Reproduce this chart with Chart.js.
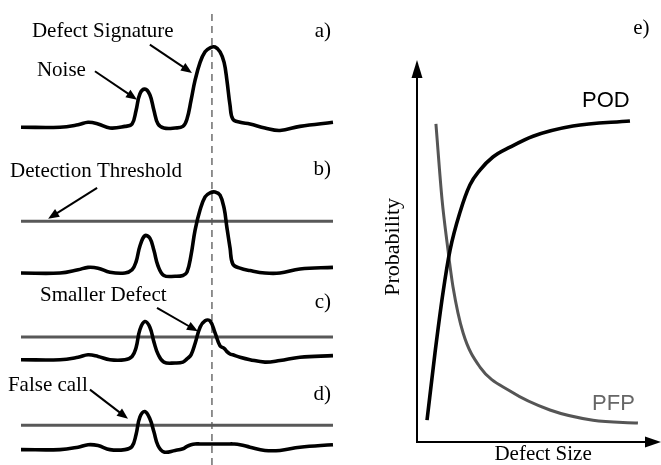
<!DOCTYPE html>
<html>
<head>
<meta charset="utf-8">
<script src="https://cdn.jsdelivr.net/npm/chart.js@4.4.1/dist/chart.umd.min.js"></script>
<style>
  html, body { margin: 0; padding: 0; background: #fff; }
  #wrap { position: relative; width: 661px; height: 465px; }
  #sigPlot { position: absolute; left: 0; top: 0; }
  #probPlot { position: absolute; left: 345px; top: 0; }
</style>
</head>
<body>
<div id="wrap">
  <canvas id="sigPlot" width="345" height="465"></canvas>
  <canvas id="probPlot" width="316" height="465"></canvas>
</div>
<script>
// scan positions shared by the four signal traces (0..100 along the scan)
const scanPos = [0, 12.5, 18.3, 21.5, 24.7, 28.5, 33.3, 35.6, 36.9, 38.1, 39.7, 41.3, 42.6, 43.9, 45.8,
  49.4, 51.9, 53.2, 54.5, 55.8, 57.4, 59.0, 60.6, 62.2, 63.8, 65.1, 66.0, 67.0, 67.9, 70.2, 73.4,
  78.2, 83.0, 89.4, 100];

// signal amplitudes (defect signature peak = 1)
const signalA = [0, 0, 0.03, 0.06, 0.04, -0.01, 0.01, 0.04, 0.21, 0.41, 0.47, 0.4, 0.21, 0.04, -0.01,
  -0.01, 0.01, 0.1, 0.33, 0.58, 0.8, 0.93, 0.98, 0.99, 0.93, 0.8, 0.58, 0.27, 0.1, 0.06, 0.04,
  -0.01, -0.04, 0.01, 0.06];
const signalB = [0, 0, 0.04, 0.07, 0.06, 0.01, 0, 0.04, 0.14, 0.33, 0.46, 0.43, 0.28, 0.09, -0.03,
  -0.04, -0.03, 0.01, 0.22, 0.53, 0.78, 0.94, 0.99, 1.0, 0.96, 0.8, 0.56, 0.31, 0.11, 0.06, 0.03,
  0, 0, 0.05, 0.07];
const signalC = [0, 0, 0.03, 0.06, 0.04, 0, 0, 0.04, 0.15, 0.37, 0.47, 0.4, 0.22, 0.07, -0.03,
  -0.04, -0.03, 0.01, 0.06, 0.2, 0.4, 0.48, 0.48, 0.33, 0.17, 0.14, 0.1, 0.07, 0.06, 0.03, 0,
  -0.03, -0.01, 0.03, 0.05];
const signalD = [0, 0, 0.03, 0.06, 0.05, 0, 0, 0.04, 0.19, 0.4, 0.47, 0.38, 0.22, 0.05, -0.03,
  -0.01, 0.01, 0.04, 0.06, 0.07, 0.07, 0.07, 0.07, 0.07, 0.07, 0.07, 0.07, 0.07, 0.07, 0.06, 0.03,
  -0.01, -0.01, 0.03, 0.06];
const signals = [signalA, signalB, signalC, signalD];
const thresholds = [null, 0.64, 0.28, 0.3];
const panelLabels = ["a)", "b)", "c)", "d)"];
const defectPos = 61.2;

// POD / PFP curves against defect size
const podSize = [0.44, 0.79, 1.14, 1.45, 1.89, 2.32, 2.76, 3.33, 4.08, 5.09, 6.84, 9.34];
const podValue = [0.06, 0.245, 0.41, 0.527, 0.632, 0.706, 0.747, 0.783, 0.81, 0.84, 0.868, 0.882];
const pfpSize = [0.83, 1.1, 1.32, 1.58, 2.02, 2.76, 4.08, 5.83, 7.72, 9.69];
const pfpValue = [0.874, 0.665, 0.547, 0.426, 0.3, 0.206, 0.14, 0.088, 0.06, 0.052];

// layout of the stacked traces (vertical offset of each baseline)
const traceOffsets = [4.17, 2.37, 1.3, 0.19];
const dashTop = 5.62;
const serif = '"Liberation Serif", "Times New Roman", serif';
const sans = '"Liberation Sans", Arial, sans-serif';

// text + arrow annotations, in data units of the chart they sit on
const sigNotes = [
  { text: "Defect Signature", x: 3.5, y: 5.28 },
  { text: "Noise", x: 5.1, y: 4.8 },
  { text: "Detection Threshold", x: -3.5, y: 3.56 },
  { text: "Smaller Defect", x: 6.1, y: 2.02 },
  { text: "False call", x: -4.2, y: 0.91 },
];
const sigArrows = [
  [41.3, 5.19, 54.8, 4.84],
  [23.7, 4.86, 37.2, 4.51],
  [24.4, 3.42, 8.7, 3.04],
  [43.6, 1.94, 56.7, 1.65],
  [22.1, 0.93, 34.3, 0.57],
];
const panelLabelX = 99.4;
const panelLabelY = [5.28, 3.58, 1.94, 0.8];

function drawArrow(ctx, x1, y1, x2, y2, headLen, headHalf) {
  const ang = Math.atan2(y2 - y1, x2 - x1);
  const c = Math.cos(ang), s = Math.sin(ang);
  ctx.beginPath();
  ctx.moveTo(x1, y1);
  ctx.lineTo(x2 - c * headLen * 0.7, y2 - s * headLen * 0.7);
  ctx.stroke();
  ctx.beginPath();
  ctx.moveTo(x2, y2);
  ctx.lineTo(x2 - headLen * c + headHalf * s, y2 - headLen * s - headHalf * c);
  ctx.lineTo(x2 - headLen * c - headHalf * s, y2 - headLen * s + headHalf * c);
  ctx.closePath();
  ctx.fill();
}

// ---- left: signal traces ----
const sigDatasets = [];
signals.forEach((sig, i) => {
  sigDatasets.push({
    data: scanPos.map((p, k) => ({ x: p, y: sig[k] + traceOffsets[i] })),
    borderColor: "#000",
    borderWidth: 3.6,
    tension: 0.4,
  });
});
thresholds.forEach((t, i) => {
  if (t === null) return;
  sigDatasets.push({
    data: [{ x: scanPos[0], y: t + traceOffsets[i] }, { x: scanPos.at(-1), y: t + traceOffsets[i] }],
    borderColor: "#585858",
    borderWidth: 3,
  });
});
sigDatasets.push({
  data: [{ x: defectPos, y: 0 }, { x: defectPos, y: dashTop }],
  borderColor: "#777",
  borderWidth: 1.6,
  borderDash: [7, 5],
});

const sigNotesPlugin = {
  id: "sigNotes",
  afterDatasetsDraw(chart) {
    const { ctx, scales: { x, y } } = chart;
    ctx.save();
    ctx.fillStyle = "#000";
    ctx.strokeStyle = "#000";
    ctx.lineWidth = 2;
    ctx.font = "21px " + serif;
    ctx.textBaseline = "alphabetic";
    ctx.textAlign = "left";
    sigNotes.forEach((n) => ctx.fillText(n.text, x.getPixelForValue(n.x), y.getPixelForValue(n.y)));
    ctx.textAlign = "right";
    panelLabels.forEach((l, i) => ctx.fillText(l, x.getPixelForValue(panelLabelX), y.getPixelForValue(panelLabelY[i])));
    sigArrows.forEach((a) => drawArrow(ctx, x.getPixelForValue(a[0]), y.getPixelForValue(a[1]),
      x.getPixelForValue(a[2]), y.getPixelForValue(a[3]), 11, 4.5));
    ctx.restore();
  },
};

new Chart(document.getElementById("sigPlot"), {
  type: "line",
  data: { datasets: sigDatasets },
  options: {
    responsive: false,
    animation: false,
    events: [],
    elements: { point: { radius: 0 } },
    layout: { padding: 0 },
    scales: {
      x: { type: "linear", min: -6.73, max: 103.85, display: false },
      y: { type: "linear", min: 0, max: 5.74, display: false },
    },
    plugins: { legend: { display: false }, tooltip: { enabled: false } },
  },
  plugins: [sigNotesPlugin],
});

// ---- right: probability vs defect size ----
const probPlugin = {
  id: "probNotes",
  afterDatasetsDraw(chart) {
    const { ctx, chartArea: area, scales: { x, y } } = chart;
    ctx.save();
    ctx.fillStyle = "#000";
    // axis arrowheads
    ctx.beginPath();
    ctx.moveTo(area.left, area.top - 18);
    ctx.lineTo(area.left - 5.5, area.top);
    ctx.lineTo(area.left + 5.5, area.top);
    ctx.closePath();
    ctx.fill();
    ctx.beginPath();
    ctx.moveTo(area.right + 16, area.bottom);
    ctx.lineTo(area.right, area.bottom - 5.5);
    ctx.lineTo(area.right, area.bottom + 5.5);
    ctx.closePath();
    ctx.fill();
    // axis titles
    ctx.font = "21px " + serif;
    ctx.textAlign = "center";
    ctx.textBaseline = "alphabetic";
    ctx.fillText("Defect Size", x.getPixelForValue(5.53), y.getPixelForValue(-0.049));
    ctx.textAlign = "right";
    ctx.fillText("e)", x.getPixelForValue(10.2), y.getPixelForValue(1.121));
    ctx.save();
    ctx.translate(x.getPixelForValue(-1.05), y.getPixelForValue(0.536));
    ctx.rotate(-Math.PI / 2);
    ctx.font = "22px " + serif;
    ctx.textAlign = "center";
    ctx.textBaseline = "middle";
    ctx.fillText("Probability", 0, 0);
    ctx.restore();
    // curve labels
    ctx.font = "22px " + sans;
    ctx.textAlign = "left";
    ctx.fillText("POD", x.getPixelForValue(7.24), y.getPixelForValue(0.92));
    ctx.fillStyle = "#666";
    ctx.fillText("PFP", x.getPixelForValue(7.68), y.getPixelForValue(0.088));
    ctx.restore();
  },
};

new Chart(document.getElementById("probPlot"), {
  type: "line",
  data: {
    datasets: [
      {
        label: "POD",
        data: podSize.map((s, k) => ({ x: s, y: podValue[k] })),
        borderColor: "#000",
        borderWidth: 3.6,
        cubicInterpolationMode: "monotone",
      },
      {
        label: "PFP",
        data: pfpSize.map((s, k) => ({ x: s, y: pfpValue[k] })),
        borderColor: "#555",
        borderWidth: 3,
        cubicInterpolationMode: "monotone",
      },
    ],
  },
  options: {
    responsive: false,
    animation: false,
    events: [],
    elements: { point: { radius: 0 } },
    layout: { padding: { left: 72, right: 16, top: 78, bottom: 23 } },
    scales: {
      x: {
        type: "linear", min: 0, max: 10,
        ticks: { display: false },
        grid: { display: false, drawTicks: false },
        border: { color: "#000", width: 2 },
      },
      y: {
        type: "linear", min: 0, max: 1,
        ticks: { display: false },
        grid: { display: false, drawTicks: false },
        border: { color: "#000", width: 2 },
      },
    },
    plugins: { legend: { display: false }, tooltip: { enabled: false } },
  },
  plugins: [probPlugin],
});
</script>
</body>
</html>
